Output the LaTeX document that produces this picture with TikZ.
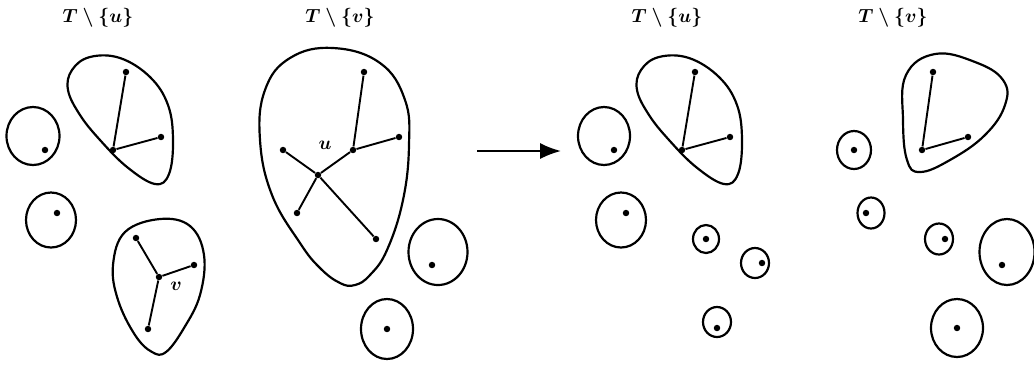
\documentclass[tikz,border=0pt]{standalone}
\usepackage{amsmath}
\usetikzlibrary{arrows.meta}

\tikzset{
  vtx/.style={circle,fill=black,inner sep=0pt,minimum size=3.4pt},
  comp/.style={line width=1.15pt},
  tedge/.style={line width=1pt},
  lbl/.style={font=\boldmath},
}

\begin{document}
\begin{tikzpicture}[x=0.0185cm,y=-0.0185cm]
\useasboundingbox (0,0) rectangle (1034,364);

% Panel (1): T \ {u}
\begin{scope}
  \node[lbl] (t1) at (98,18) {$T\setminus\{u\}$};
  % singletons
  \draw[comp] (33,136) ellipse (26.5 and 29);
  \node[vtx] (p1a) at (45,150) {};
  \draw[comp] (51,220) ellipse (25 and 27.5);
  \node[vtx] (p1b) at (57,213) {};
  % upper piece
  \draw[comp] plot[smooth cycle,tension=0.65] coordinates
    {(155,184) (169,174) (173,140) (168,105) (150,77) (120,58) (90,57) (72,70) (68,90) (80,115) (100,140) (127,167)};
  \node[vtx] (p1r) at (113,150) {};
  \node[vtx] (p1s) at (126,72) {};
  \node[vtx] (p1t) at (161,137) {};
  \draw[tedge] (p1r) -- (p1s);
  \draw[tedge] (p1r) -- (p1t);
  % lower piece, with v
  \draw[comp] plot[smooth cycle,tension=0.65] coordinates
    {(160,219) (190,226) (204,255) (200,295) (184,328) (166,352) (152,352) (135,335) (118,300) (113,265) (125,232)};
  \node[vtx] (v1) at (159,277) {};
  \node[vtx] (v1a) at (136,238) {};
  \node[vtx] (v1b) at (194,265) {};
  \node[vtx] (v1c) at (148,329) {};
  \draw[tedge] (v1) -- (v1a);
  \draw[tedge] (v1) -- (v1b);
  \draw[tedge] (v1) -- (v1c);
  \node[lbl] (vlab) at (176,286) {$v$};
\end{scope}

% Panel (2): T \ {v}
\begin{scope}
  \node[lbl] (t2) at (340,18) {$T\setminus\{v\}$};
  \draw[comp] plot[smooth cycle,tension=0.7] coordinates
    {(333,48) (380,63) (405,100) (409,145) (403,200) (387,250) (370,275) (355,285) (340,283) (320,268) (300,243) (272,195) (260,140) (265,90) (290,58)};
  \node[vtx] (u2) at (318,175) {};
  \node[vtx] (w2) at (353,150) {};
  \node[vtx] (u2a) at (283,150) {};
  \node[vtx] (u2b) at (297,213) {};
  \node[vtx] (u2c) at (376,239) {};
  \node[vtx] (w2a) at (364,72) {};
  \node[vtx] (w2b) at (399,137) {};
  \draw[tedge] (u2) -- (u2a);
  \draw[tedge] (u2) -- (u2b);
  \draw[tedge] (u2) -- (u2c);
  \draw[tedge] (u2) -- (w2);
  \draw[tedge] (w2) -- (w2a);
  \draw[tedge] (w2) -- (w2b);
  \node[lbl] (ulab) at (325,145) {$u$};
  % singletons
  \draw[comp] (438,252) ellipse (29.5 and 33);
  \node[vtx] (p2a) at (432,265) {};
  \draw[comp] (387,329) ellipse (26 and 30);
  \node[vtx] (p2b) at (387,329) {};
\end{scope}

% arrow
\coordinate (arrS) at (477,151);
\coordinate (arrE) at (561,151);
\draw[line width=1.1pt,-{Latex[length=11pt,width=8.5pt]}] (arrS) -- (arrE);

% Panel (3): T \ {u}
\begin{scope}
  \node[lbl] (t3) at (667,18) {$T\setminus\{u\}$};
  \draw[comp] (604,136) ellipse (26 and 29);
  \node[vtx] (p3a) at (614,150) {};
  \draw[comp] (621,220) ellipse (25 and 27.5);
  \node[vtx] (p3b) at (626,213) {};
  \draw[comp] (706,239) ellipse (13 and 14);
  \node[vtx] (p3c) at (706,239) {};
  \draw[comp] (755,263) ellipse (14 and 15);
  \node[vtx] (p3d) at (762,263) {};
  \draw[comp] (717,322) ellipse (14 and 15);
  \node[vtx] (p3e) at (717,328) {};
\end{scope}
\begin{scope}[shift={(569,0)}]
  \draw[comp] plot[smooth cycle,tension=0.65] coordinates
    {(155,184) (169,174) (173,140) (168,105) (150,77) (120,58) (90,57) (72,70) (68,90) (80,115) (100,140) (127,167)};
  \node[vtx] (p3r) at (113,150) {};
  \node[vtx] (p3s) at (126,72) {};
  \node[vtx] (p3t) at (161,137) {};
  \draw[tedge] (p3r) -- (p3s);
  \draw[tedge] (p3r) -- (p3t);
\end{scope}

% Panel (4): T \ {v}
\begin{scope}
  \node[lbl] (t4) at (893,18) {$T\setminus\{v\}$};
  \draw[comp] plot[smooth cycle,tension=0.7] coordinates
    {(935,54) (975,62) (1003,80) (1005,105) (985,135) (950,160) (920,172) (907,160) (903,120) (906,75)};
  \node[vtx] (p4r) at (922,150) {};
  \node[vtx] (p4s) at (933,72) {};
  \node[vtx] (p4t) at (968,137) {};
  \draw[tedge] (p4r) -- (p4s);
  \draw[tedge] (p4r) -- (p4t);
  % singletons
  \draw[comp] (854,150) ellipse (17 and 19);
  \node[vtx] (p4a) at (854,150) {};
  \draw[comp] (871,213) ellipse (13.5 and 15.5);
  \node[vtx] (p4b) at (866,213) {};
  \draw[comp] (939,239) ellipse (14 and 15.5);
  \node[vtx] (p4c) at (945,239) {};
  \draw[comp] (1007,252) ellipse (27.5 and 33);
  \node[vtx] (p4d) at (1002,265) {};
  \draw[comp] (957,328) ellipse (26 and 29);
  \node[vtx] (p4e) at (957,328) {};
\end{scope}
\end{tikzpicture}
\end{document}
